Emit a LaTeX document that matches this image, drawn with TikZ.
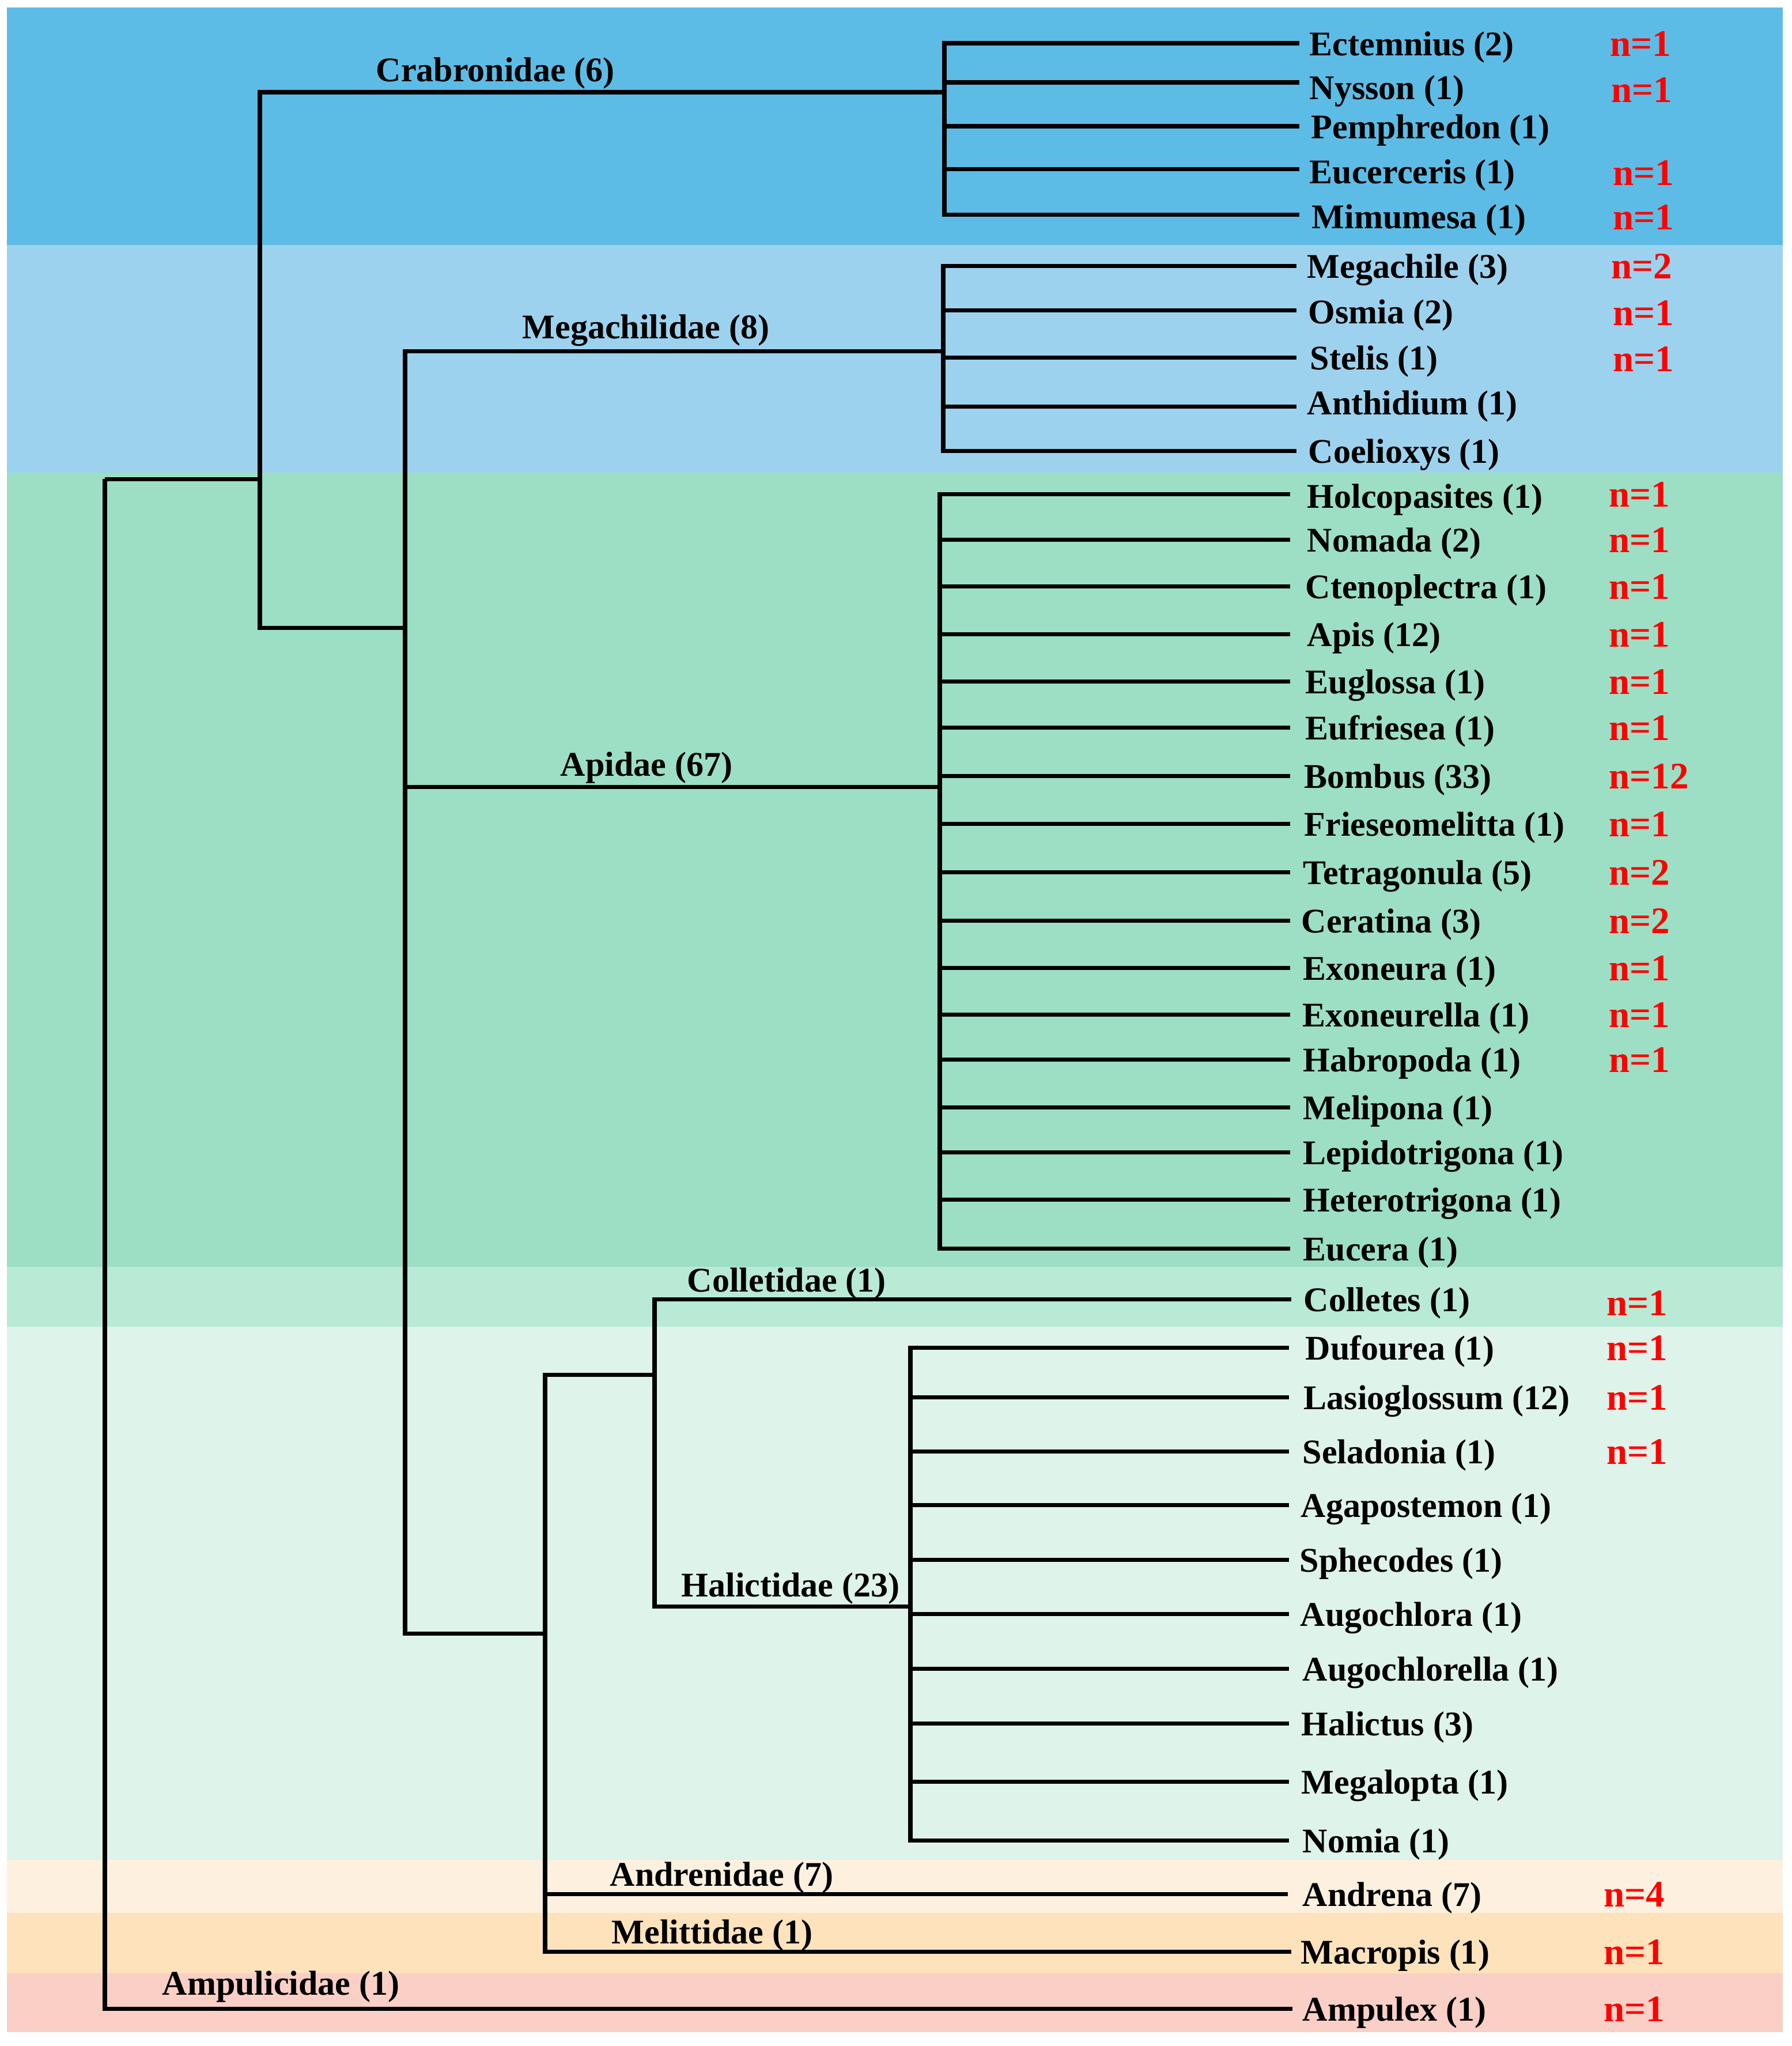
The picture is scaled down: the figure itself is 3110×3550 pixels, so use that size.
\documentclass[tikz,border=0pt]{standalone}
\usepackage{fontspec}
\setmainfont{Liberation Serif}
\definecolor{bandA}{HTML}{5DBCE6}
\definecolor{bandB}{HTML}{9DD2EE}
\definecolor{bandC}{HTML}{9CDFC4}
\definecolor{bandD}{HTML}{B8EAD5}
\definecolor{bandE}{HTML}{DEF3EA}
\definecolor{bandF}{HTML}{FEF0DF}
\definecolor{bandG}{HTML}{FDE2BB}
\definecolor{bandH}{HTML}{F9CFC6}
\definecolor{nred}{HTML}{FF0000}
\tikzset{
  branch/.style={line width=2pt, black},
  genus/.style={anchor=base west, inner sep=0pt, font=\fontsize{17.07}{20}\selectfont\bfseries},
  clade/.style={anchor=base west, inner sep=0pt, font=\fontsize{17.07}{20}\selectfont\bfseries},
  nlabel/.style={anchor=base west, inner sep=0pt, text=nred, font=\fontsize{18.5}{22}\selectfont\bfseries},
}
% #1 parent, #2 id, #3 line y, #4 line end x, #5 text x, #6 label, optional text y shift
\newcommand\gen[7][0]{%
  \coordinate (e#3) at (#5,#4);
  \draw[branch] (#2) |- (e#3);
  \node[genus] (t#3) at (#6,#4+21+#1) {#7};}
\newcommand\nlab[5][0]{\node[nlabel] (n#2) at (#3,#4+22+#1) {#5};}
\begin{document}
\begin{tikzpicture}[x=0.01cm,y=-0.01cm]
\useasboundingbox (0,0) rectangle (3110,3550);
\fill[white] (0,0) rectangle (3110,3550);
% background bands
\fill[bandA] (12,13) rectangle (3094,425);
\fill[bandB] (12,425) rectangle (3094,820);
\fill[bandC] (12,820) rectangle (3094,2198);
\fill[bandD] (12,2198) rectangle (3094,2302);
\fill[bandE] (12,2302) rectangle (3094,3227);
\fill[bandF] (12,3227) rectangle (3094,3319);
\fill[bandG] (12,3319) rectangle (3094,3424);
\fill[bandH] (12,3424) rectangle (3094,3526);

% internal nodes
\coordinate (root) at (182,831);
\coordinate (A) at (451,831);
\coordinate (crabN) at (1639,160);
\coordinate (Bn) at (703,1089);
\coordinate (megaN) at (1637,609);
\coordinate (apiN) at (1631,1365);
\coordinate (Cn) at (946,2834);
\coordinate (Dn) at (1136,2385);
\coordinate (haliN) at (1580,2787);

\draw[branch] (root) -- (A);
\draw[branch] (A) |- (crabN);
\draw[branch] (A) |- (Bn);
\draw[branch] (Bn) |- (megaN);
\draw[branch] (Bn) |- (apiN);
\draw[branch] (Bn) |- (Cn);
\draw[branch] (Cn) |- (Dn);
\draw[branch] (Dn) |- (haliN);

% clade labels
\node[clade] (lCrab) at (652,141) {Crabronidae (6)};
\node[clade] (lMega) at (906,587) {Megachilidae (8)};
\node[clade] (lApi) at (972,1346) {Apidae (67)};
\node[clade] (lColl) at (1192,2241) {Colletidae (1)};
\node[clade] (lHali) at (1182,2770) {Halictidae (23)};
\node[clade] (lAndr) at (1058,3272) {Andrenidae (7)};
\node[clade] (lMeli) at (1061,3372) {Melittidae (1)};
\node[clade] (lAmpu) at (281,3461) {Ampulicidae (1)};

% Crabronidae genera
\gen{crabN}{Ectemnius}{75}{2255}{2272}{Ectemnius (2)}
\gen[8]{crabN}{Nysson}{143}{2255}{2272}{Nysson (1)}
\gen{crabN}{Pemphredon}{219}{2255}{2275}{Pemphredon (1)}
\gen[4]{crabN}{Eucerceris}{293}{2255}{2272}{Eucerceris (1)}
\gen[3]{crabN}{Mimumesa}{372}{2255}{2276}{Mimumesa (1)}
\nlab{Ectemnius}{2794}{75}{n=1}
\nlab[12]{Nysson}{2796}{143}{n=1}
\nlab[6]{Eucerceris}{2799}{293}{n=1}
\nlab[4]{Mimumesa}{2799}{372}{n=1}

% Megachilidae genera
\gen{megaN}{Megachile}{461}{2250}{2268}{Megachile (3)}
\gen[2]{megaN}{Osmia}{538}{2250}{2270}{Osmia (2)}
\gen{megaN}{Stelis}{620}{2250}{2273}{Stelis (1)}
\gen[-7]{megaN}{Anthidium}{705}{2250}{2268}{Anthidium (1)}
\gen{megaN}{Coelioxys}{782}{2250}{2270}{Coelioxys (1)}
\nlab{Megachile}{2796}{461}{n=2}
\nlab[4]{Osmia}{2799}{538}{n=1}
\nlab[2]{Stelis}{2799}{620}{n=1}

% Apidae genera
\gen[3]{apiN}{Holcopasites}{857}{2239}{2268}{Holcopasites (1)}
\gen{apiN}{Nomada}{936}{2239}{2268}{Nomada (2)}
\gen{apiN}{Ctenoplectra}{1017}{2239}{2265}{Ctenoplectra (1)}
\gen{apiN}{Apis}{1100}{2239}{2268}{Apis (12)}
\gen{apiN}{Euglossa}{1182}{2239}{2265}{Euglossa (1)}
\gen{apiN}{Eufriesea}{1262}{2239}{2265}{Eufriesea (1)}
\gen{apiN}{Bombus}{1346}{2239}{2263}{Bombus (33)}
\gen{apiN}{Frieseomelitta}{1429}{2239}{2263}{Frieseomelitta (1)}
\gen{apiN}{Tetragonula}{1513}{2239}{2261}{Tetragonula (5)}
\gen{apiN}{Ceratina}{1597}{2239}{2258}{Ceratina (3)}
\gen{apiN}{Exoneura}{1679}{2239}{2261}{Exoneura (1)}
\gen{apiN}{Exoneurella}{1760}{2239}{2260}{Exoneurella (1)}
\gen{apiN}{Habropoda}{1838}{2239}{2261}{Habropoda (1)}
\gen{apiN}{Melipona}{1921}{2239}{2261}{Melipona (1)}
\gen{apiN}{Lepidotrigona}{1999}{2239}{2261}{Lepidotrigona (1)}
\gen{apiN}{Heterotrigona}{2081}{2239}{2261}{Heterotrigona (1)}
\gen{apiN}{Eucera}{2166}{2239}{2261}{Eucera (1)}
\nlab{Holcopasites}{2792}{857}{n=1}
\nlab{Nomada}{2792}{936}{n=1}
\nlab{Ctenoplectra}{2792}{1017}{n=1}
\nlab{Apis}{2792}{1100}{n=1}
\nlab{Euglossa}{2792}{1182}{n=1}
\nlab{Eufriesea}{2792}{1262}{n=1}
\nlab{Bombus}{2792}{1346}{n=12}
\nlab{Frieseomelitta}{2792}{1429}{n=1}
\nlab{Tetragonula}{2792}{1513}{n=2}
\nlab{Ceratina}{2792}{1597}{n=2}
\nlab{Exoneura}{2792}{1679}{n=1}
\nlab{Exoneurella}{2792}{1760}{n=1}
\nlab{Habropoda}{2792}{1838}{n=1}

% Colletidae
\gen{Dn}{Colletes}{2254}{2241}{2262}{Colletes (1)}
\nlab[6]{Colletes}{2788}{2254}{n=1}

% Halictidae genera
\gen{haliN}{Dufourea}{2338}{2237}{2265}{Dufourea (1)}
\gen{haliN}{Lasioglossum}{2424}{2237}{2262}{Lasioglossum (12)}
\gen{haliN}{Seladonia}{2518}{2237}{2260}{Seladonia (1)}
\gen{haliN}{Agapostemon}{2611}{2237}{2257}{Agapostemon (1)}
\gen{haliN}{Sphecodes}{2706}{2237}{2255}{Sphecodes (1)}
\gen{haliN}{Augochlora}{2800}{2237}{2256}{Augochlora (1)}
\gen{haliN}{Augochlorella}{2895}{2237}{2260}{Augochlorella (1)}
\gen{haliN}{Halictus}{2990}{2237}{2258}{Halictus (3)}
\gen{haliN}{Megalopta}{3091}{2237}{2258}{Megalopta (1)}
\gen{haliN}{Nomia}{3193}{2237}{2260}{Nomia (1)}
\nlab{Dufourea}{2788}{2338}{n=1}
\nlab{Lasioglossum}{2788}{2424}{n=1}
\nlab{Seladonia}{2788}{2518}{n=1}

% Andrenidae, Melittidae, Ampulicidae
\gen{Cn}{Andrena}{3286}{2235}{2260}{Andrena (7)}
\gen{Cn}{Macropis}{3386}{2241}{2257}{Macropis (1)}
\gen{root}{Ampulex}{3485}{2243}{2260}{Ampulex (1)}
\nlab{Andrena}{2783}{3286}{n=4}
\nlab{Macropis}{2783}{3386}{n=1}
\nlab{Ampulex}{2783}{3485}{n=1}
\end{tikzpicture}
\end{document}
